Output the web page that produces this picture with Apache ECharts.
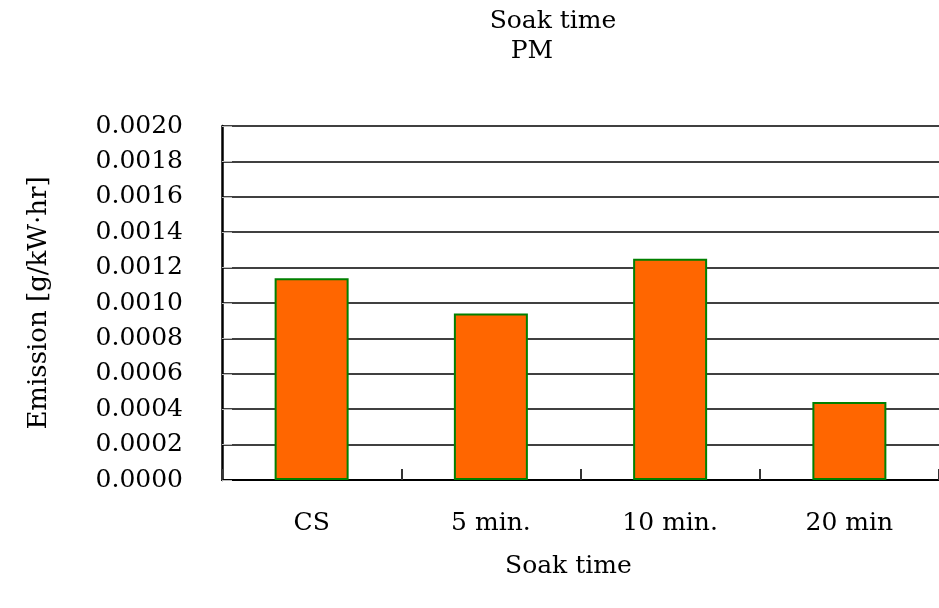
<!DOCTYPE html>
<html>
<head>
<meta charset="utf-8">
<script src="https://cdn.jsdelivr.net/npm/echarts@6/dist/echarts.min.js"></script>
<style>
  html, body { margin: 0; padding: 0; background: #fff; }
  #chart { width: 939px; height: 608px; }
</style>
</head>
<body>
<div id="chart"></div>
<script>
// 数据
const categories = ['CS', '5 min.', '10 min.', '20 min'];
const pmValues = [0.00114, 0.00094, 0.00125, 0.00044];

const serif = '"DejaVu Serif", "Liberation Serif", serif';

const chart = echarts.init(document.getElementById('chart'));

const option = {
  backgroundColor: '#fff',
  animation: false,
  title: [
    {
      text: 'Soak time',
      left: 548,
      top: 4,
      textAlign: 'center',
      textStyle: { fontFamily: serif, fontWeight: 'normal', fontSize: 25, color: '#000' }
    },
    {
      text: 'PM',
      left: 527,
      top: 34,
      textAlign: 'center',
      textStyle: { fontFamily: serif, fontWeight: 'normal', fontSize: 25, color: '#000' }
    }
  ],
  graphic: [{
    type: 'text',
    left: 567 - 62,
    top: 554,
    style: { text: 'Soak time', font: '25px ' + serif, fill: '#000' }
  }],
  grid: { left: 222, top: 126, width: 724, height: 354, containLabel: false },
  xAxis: {
    type: 'category',
    data: categories,
    boundaryGap: true,
    axisLine: { lineStyle: { color: '#000', width: 2 } },
    axisTick: { show: true, inside: true, length: 11, interval: 0, lineStyle: { color: '#333', width: 2 } },
    axisLabel: { interval: 0, margin: 31, fontFamily: serif, fontSize: 25, color: '#000' }
  },
  yAxis: {
    type: 'value',
    min: 0,
    max: 0.002,
    interval: 0.0002,
    name: 'Emission [g/kW·hr]',
    nameLocation: 'middle',
    nameGap: 170,
    nameTextStyle: { fontFamily: serif, fontSize: 26, color: '#000' },
    axisLine: { show: true, lineStyle: { color: '#000', width: 2.5 } },
    axisTick: { show: true, inside: true, length: 10, lineStyle: { color: '#bbb' } },
    axisLabel: {
      margin: 39,
      fontFamily: serif,
      fontSize: 25,
      color: '#000',
      formatter: v => v.toFixed(4)
    },
    splitLine: { lineStyle: { color: '#000', width: 1.5 } }
  },
  series: [{
    type: 'bar',
    data: pmValues,
    barWidth: 74,
    itemStyle: { color: '#FF6600', borderColor: '#008000', borderWidth: 2 }
  }]
};

chart.setOption(option);
</script>
</body>
</html>
